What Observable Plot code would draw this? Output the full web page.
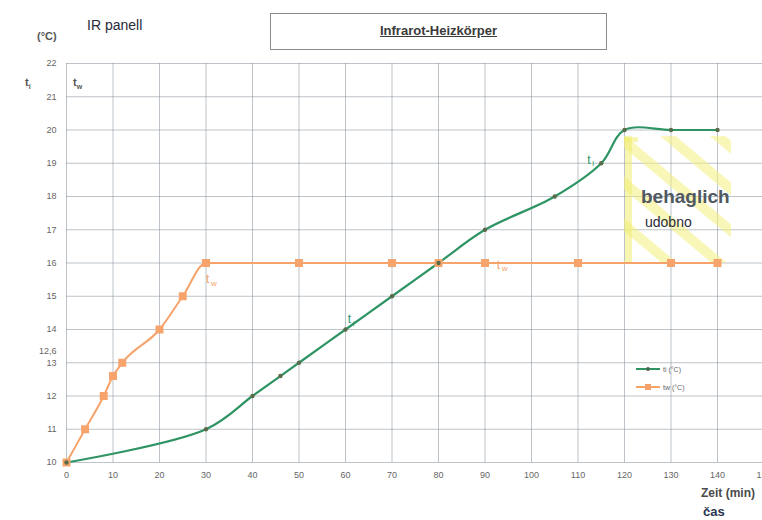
<!DOCTYPE html>
<html>
<head>
<meta charset="utf-8">
<script src="https://cdn.jsdelivr.net/npm/d3@7"></script>
<script src="https://cdn.jsdelivr.net/npm/@observablehq/plot@0.6"></script>
<style>
  html, body { margin: 0; padding: 0; background: #fff; }
  #wrap { position: relative; width: 762px; height: 520px; overflow: hidden; font-family: "Liberation Sans", Arial, sans-serif; }
  #chart { position: absolute; left: 0; top: 0; width: 780px; height: 520px; }
  #chart svg { max-width: none !important; }
  .ov { position: absolute; white-space: nowrap; }
</style>
</head>
<body>
<svg width="0" height="0" style="position:absolute">
  <defs>
    <pattern id="hatch" patternUnits="userSpaceOnUse" width="32" height="32" patternTransform="rotate(-50)">
      <rect x="0" y="0" width="10" height="32" fill="#f3f07e" fill-opacity="0.55"></rect>
    </pattern>
  </defs>
</svg>
<div id="wrap">
  <div id="chart"></div>
  <div class="ov" style="left:87px;top:17px;font-size:14px;color:#2a2a3a;">IR panell</div>
  <div class="ov" style="left:37px;top:30px;font-size:11px;color:#555;font-weight:bold;">(°C)</div>
  <div class="ov" style="left:25px;top:76px;font-size:11px;color:#555;font-weight:bold;">t<sub style="font-size:7px">i</sub></div>
  <div class="ov" style="left:73px;top:76px;font-size:11px;color:#555;font-weight:bold;">t<sub style="font-size:7px">w</sub></div>
  <div class="ov" style="left:270px;top:13px;width:337px;height:37px;border:1px solid #8a8a8a;box-sizing:border-box;"></div>
  <div class="ov" style="left:270px;top:23px;width:337px;text-align:center;font-size:13px;font-weight:bold;color:#3a3a3a;text-decoration:underline;">Infrarot-Heizkörper</div>
  <div class="ov" style="left:641px;top:186px;font-size:19px;font-weight:bold;color:#505860;">behaglich</div>
  <div class="ov" style="left:645px;top:214px;font-size:14px;color:#2a2a3a;">udobno</div>
  <div class="ov" style="left:701px;top:486px;font-size:12px;font-weight:bold;color:#4a4a4a;">Zeit (min)</div>
  <div class="ov" style="left:703px;top:504px;font-size:13px;font-weight:bold;color:#2a3550;">čas</div>
  <svg class="ov" style="left:630px;top:360px;" width="80" height="36">
    <line x1="6" x2="30" y1="9" y2="9" stroke="#2f9464" stroke-width="2"></line>
    <circle cx="18" cy="9" r="2" fill="#4a6b4a"></circle>
    <text x="33" y="12" font-size="7" fill="#666">ti (°C)</text>
    <line x1="6" x2="30" y1="27" y2="27" stroke="#f5a36b" stroke-width="2"></line>
    <rect x="15" y="24" width="6" height="6" fill="#f5a36b"></rect>
    <text x="33" y="30" font-size="7" fill="#666">tw (°C)</text>
  </svg>
</div>
<script>
const tiMinutes = [0, 30, 40, 46, 50, 60, 70, 80, 90, 105, 115, 120, 130, 140];
const tiValues  = [10, 11, 12, 12.6, 13, 14, 15, 16, 17, 18, 19, 20, 20, 20];
const twMinutes = [0, 4, 8, 10, 12, 20, 25, 30, 50, 70, 80, 90, 110, 130, 140];
const twValues  = [10, 11, 12, 12.6, 13, 14, 15, 16, 16, 16, 16, 16, 16, 16, 16];
const xTicks = [0, 10, 20, 30, 40, 50, 60, 70, 80, 90, 100, 110, 120, 130, 140, 150];
const yTicks = [10, 11, 12, 13, 14, 15, 16, 17, 18, 19, 20, 21, 22];
const comfortZone = [{x1: 120, x2: 143, y1: 16, y2: 19.8}];
const curveLabels = [
  {x: 30, y: 15.5, main: "t", sub: "w", color: "#f5a36b"},
  {x: 92.5, y: 15.95, main: "t", sub: "w", color: "#f5a36b"},
  {x: 60.5, y: 14.3, main: "t", sub: "i", color: "#2f9464"},
  {x: 112, y: 19.1, main: "t", sub: "i", color: "#2f9464"}
];
const extraTick = [{x: 0, y: 13, label: "12,6"}];

const ti = tiMinutes.map((m, i) => ({x: m, y: tiValues[i]}));
const tw = twMinutes.map((m, i) => ({x: m, y: twValues[i]}));

const chart = Plot.plot({
  width: 780,
  height: 520,
  marginLeft: 66,
  marginRight: 16.5,
  marginTop: 63,
  marginBottom: 58,
  style: {fontFamily: "Liberation Sans, Arial, sans-serif", fontSize: "9px", color: "#666", background: "transparent", maxWidth: "none"},
  x: {domain: [0, 150]},
  y: {domain: [10, 22]},
  marks: [
    Plot.gridY(yTicks, {stroke: "#7d8894", strokeOpacity: 0.5}),
    Plot.gridX(xTicks, {stroke: "#7d8894", strokeOpacity: 0.5}),
    Plot.rect(comfortZone, {x1: "x1", x2: "x2", y1: "y1", y2: "y2", fill: "url(#hatch)"}),
    Plot.ruleX(comfortZone, {x: "x1", y1: "y1", y2: "y2", dx: 4, stroke: "#f0ec70", strokeWidth: 7, strokeOpacity: 0.55}),
    Plot.ruleY(comfortZone, {y: "y2", x1: "x1", x2: (d) => d.x1 + 3, dy: 3, stroke: "#f0ec70", strokeWidth: 5, strokeOpacity: 0.55}),
    Plot.axisY(yTicks, {tickSize: 0, tickPadding: 10, label: null, fill: "#666"}),
    Plot.axisX(xTicks, {tickSize: 0, tickPadding: 9, label: null, fill: "#666"}),
    Plot.text(extraTick, {x: "x", y: "y", text: "label", dx: -10, dy: -12, textAnchor: "end", fill: "#666"}),
    Plot.line(tw, {x: "x", y: "y", stroke: "#f5a36b", strokeWidth: 2, curve: "monotone-x"}),
    Plot.line(ti, {x: "x", y: "y", stroke: "#2f9464", strokeWidth: 2.2, curve: "catmull-rom"}),
    Plot.dot(tw, {x: "x", y: "y", symbol: "square", r: 4.5, fill: "#f7a46c"}),
    Plot.dot(ti, {x: "x", y: "y", r: 2.2, fill: "#5a6b4a"}),
    Plot.text(curveLabels, {x: "x", y: "y", text: "main", fill: "color", fontSize: 12, textAnchor: "start"}),
    Plot.text(curveLabels, {x: "x", y: "y", text: "sub", fill: "color", fontSize: 8, dx: 5, dy: 4, textAnchor: "start"})
  ]
});
document.getElementById("chart").appendChild(chart);
</script>
</body>
</html>
